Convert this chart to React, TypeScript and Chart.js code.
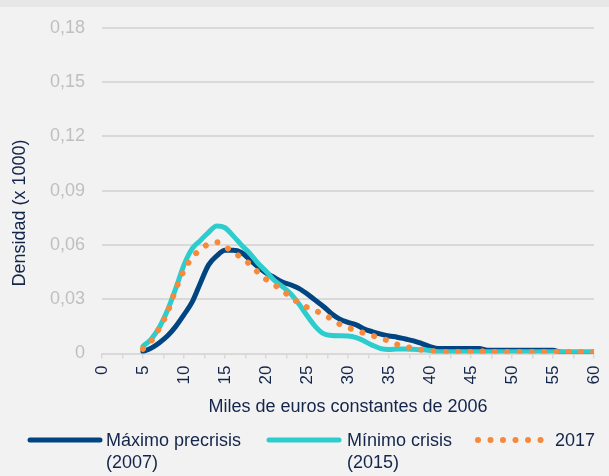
import React, { useEffect, useRef } from "react";
import { Chart, registerables } from "chart.js";

Chart.register(...registerables);

// ---- Data ----
const xValues = [
  5, 6, 7, 8, 9, 10, 11, 12, 13, 14, 15, 16, 17, 18, 19, 20, 21, 22, 23, 24, 25,
  26, 27, 28, 29, 30, 31, 32, 33, 34, 35, 36, 37, 38, 39, 40, 41, 42, 43, 44, 45,
  46, 47, 48, 49, 50, 51, 52, 53, 54, 55, 56, 57, 58, 59, 60,
];

const maximoPrecrisis2007 = [
  0.001, 0.003, 0.006, 0.0098, 0.015, 0.0215, 0.0285, 0.039, 0.049, 0.054, 0.057,
  0.057, 0.0558, 0.052, 0.048, 0.0445, 0.042, 0.0395, 0.038, 0.036, 0.033,
  0.0295, 0.026, 0.022, 0.019, 0.0172, 0.0158, 0.0135, 0.012, 0.0107, 0.0097,
  0.009, 0.008, 0.007, 0.0055, 0.0038, 0.0027, 0.0027, 0.0027, 0.0027, 0.0027,
  0.0027, 0.0018, 0.0018, 0.0018, 0.0018, 0.0018, 0.0018, 0.0018, 0.0018, 0.0018,
  0.0007, 0.0006, 0.0006, 0.0006, 0.0006,
];

const minimoCrisis2015 = [
  0.004, 0.008, 0.0145, 0.024, 0.036, 0.049, 0.058, 0.0625, 0.067, 0.0705, 0.0695,
  0.065, 0.06, 0.0555, 0.05, 0.0455, 0.0405, 0.037, 0.033, 0.0275, 0.021, 0.015,
  0.011, 0.0099, 0.0098, 0.0097, 0.0088, 0.0068, 0.0045, 0.0027, 0.0022, 0.0025,
  0.0025, 0.0023, 0.0021, 0.0017, 0.001, 0.0009, 0.0009, 0.0009, 0.0009, 0.0009,
  0.0009, 0.0009, 0.0009, 0.0009, 0.0009, 0.0009, 0.0009, 0.0009, 0.0009, 0.0009,
  0.0009, 0.0009, 0.0009, 0.0009,
];

const year2017 = [
  0.0025, 0.007, 0.014, 0.023, 0.0355, 0.046, 0.053, 0.0575, 0.0605, 0.0615, 0.059,
  0.056, 0.053, 0.0495, 0.045, 0.041, 0.038, 0.035, 0.031, 0.028, 0.0255, 0.0237,
  0.0217, 0.019, 0.0162, 0.0143, 0.0128, 0.0112, 0.0098, 0.0087, 0.0068, 0.005,
  0.0037, 0.003, 0.002, 0.0016, 0.0009, 0.0008, 0.0008, 0.0008, 0.0008, 0.0013,
  0.0009, 0.0008, 0.0008, 0.0008, 0.0008, 0.0008, 0.0008, 0.0008, 0.0008, 0.0008,
  0.0008, 0.0008, 0.0008, 0.0008,
];

const seriesNames = [
  ["Máximo precrisis", "(2007)"],
  ["Mínimo crisis", "(2015)"],
  ["2017"],
];
const xAxisTitle = "Miles de euros constantes de 2006";
const yAxisTitle = "Densidad (x 1000)";
const yMin = 0;
const yMax = 0.18;
const yStep = 0.03;
const xMin = 0;
const xMax = 60;
const xStep = 2.5;

// ---- Styles ----
const NAVY = "#004481";
const AQUA = "#2DCCCD";
const ORANGE = "#F7893B";
const TEXT = "#14254a";
const GRID = "#d9d9d9";
const FONT_FAMILY = '"Liberation Sans", Arial, sans-serif';

const toPoints = (ys: number[]) => xValues.map((x, i) => ({ x, y: ys[i] }));

const decorPlugin = {
  id: "decor",
  beforeDraw(chart: any) {
    const { ctx, width, height } = chart;
    ctx.save();
    ctx.fillStyle = "#f2f2f2";
    ctx.fillRect(0, 0, width, height);
    ctx.fillStyle = "#e7e7e7";
    ctx.fillRect(0, 0, width, 7);
    ctx.restore();
  },
  afterDraw(chart: any) {
    const { ctx, chartArea } = chart;
    ctx.save();
    ctx.fillStyle = TEXT;
    ctx.font = `18px ${FONT_FAMILY}`;
    ctx.textAlign = "center";
    ctx.textBaseline = "middle";
    ctx.fillText(xAxisTitle, (chartArea.left + chartArea.right) / 2, 407);
    ctx.save();
    ctx.translate(20, 213);
    ctx.rotate(-Math.PI / 2);
    ctx.fillText(yAxisTitle, 0, 0);
    ctx.restore();

    // legend
    const items = [
      { x0: 30, x1: 100, tx: 106, color: NAVY, dotted: false },
      { x0: 269, x1: 339, tx: 347, color: AQUA, dotted: false },
      { x0: 478, x1: 541, tx: 555, color: ORANGE, dotted: true },
    ];
    const rowY = 440;
    items.forEach((it, i) => {
      ctx.save();
      ctx.strokeStyle = it.color;
      ctx.lineCap = "round";
      if (it.dotted) {
        ctx.lineWidth = 6;
        ctx.setLineDash([0.001, 12.5]);
      } else {
        ctx.lineWidth = 5;
      }
      ctx.beginPath();
      ctx.moveTo(it.x0, rowY);
      ctx.lineTo(it.x1, rowY);
      ctx.stroke();
      ctx.restore();
      ctx.fillStyle = TEXT;
      ctx.textAlign = "left";
      ctx.textBaseline = "middle";
      seriesNames[i].forEach((line, j) => {
        ctx.fillText(line, it.tx, rowY + 1 + j * 22);
      });
    });
    ctx.restore();
  },
};

export default function App() {
  const canvasRef = useRef<HTMLCanvasElement | null>(null);

  useEffect(() => {
    if (!canvasRef.current) return;
    const chart = new Chart(canvasRef.current, {
      type: "line",
      data: {
        datasets: [
          {
            label: seriesNames[0].join(" "),
            data: toPoints(maximoPrecrisis2007),
            borderColor: NAVY,
            backgroundColor: NAVY,
            borderWidth: 5,
            pointRadius: 0,
            cubicInterpolationMode: "monotone",
            borderCapStyle: "round",
            borderJoinStyle: "round",
            order: 3,
          },
          {
            label: seriesNames[1].join(" "),
            data: toPoints(minimoCrisis2015),
            borderColor: AQUA,
            backgroundColor: AQUA,
            borderWidth: 5,
            pointRadius: 0,
            cubicInterpolationMode: "monotone",
            borderCapStyle: "round",
            borderJoinStyle: "round",
            order: 2,
          },
          {
            label: seriesNames[2].join(" "),
            data: toPoints(year2017),
            borderColor: ORANGE,
            backgroundColor: ORANGE,
            borderWidth: 6,
            borderDash: [0.001, 12.3],
            borderCapStyle: "round",
            pointRadius: 0,
            cubicInterpolationMode: "monotone",
            order: 1,
          },
        ],
      },
      options: {
        responsive: false,
        animation: false,
        layout: { padding: { left: 0, right: 15, top: 23.5, bottom: 0 } },
        plugins: {
          legend: { display: false },
          tooltip: { enabled: false },
        },
        scales: {
          x: {
            type: "linear",
            min: xMin,
            max: xMax,
            afterFit: (scale: any) => {
              scale.height = 122.5;
              scale.paddingLeft = 0;
              scale.paddingRight = 0;
            },
            ticks: {
              stepSize: xStep,
              autoSkip: false,
              minRotation: 90,
              maxRotation: 90,
              padding: 7,
              color: TEXT,
              font: { family: FONT_FAMILY, size: 17 },
              callback: (v: any) => (Number(v) % 5 === 0 ? String(v) : ""),
            },
            grid: {
              drawOnChartArea: false,
              drawTicks: true,
              tickLength: 5,
              color: GRID,
              lineWidth: 1.5,
            },
            border: { display: true, color: GRID, width: 2 },
          },
          y: {
            min: yMin,
            max: yMax,
            afterFit: (scale: any) => {
              scale.width = 102;
            },
            ticks: {
              stepSize: yStep,
              padding: 17,
              color: "#bfbfbf",
              font: { family: FONT_FAMILY, size: 18 },
              callback: (v: any) =>
                Number(v) === 0 ? "0" : Number(v).toFixed(2).replace(".", ","),
            },
            grid: { color: GRID, lineWidth: 2, drawTicks: false },
            border: { display: false },
          },
        },
      },
      plugins: [decorPlugin],
    } as any);
    return () => chart.destroy();
  }, []);

  return (
    <div style={{ position: "fixed", left: 0, top: 0, width: 609, height: 476 }}>
      <canvas ref={canvasRef} width={609} height={476} style={{ width: 609, height: 476, display: "block" }} />
    </div>
  );
}
